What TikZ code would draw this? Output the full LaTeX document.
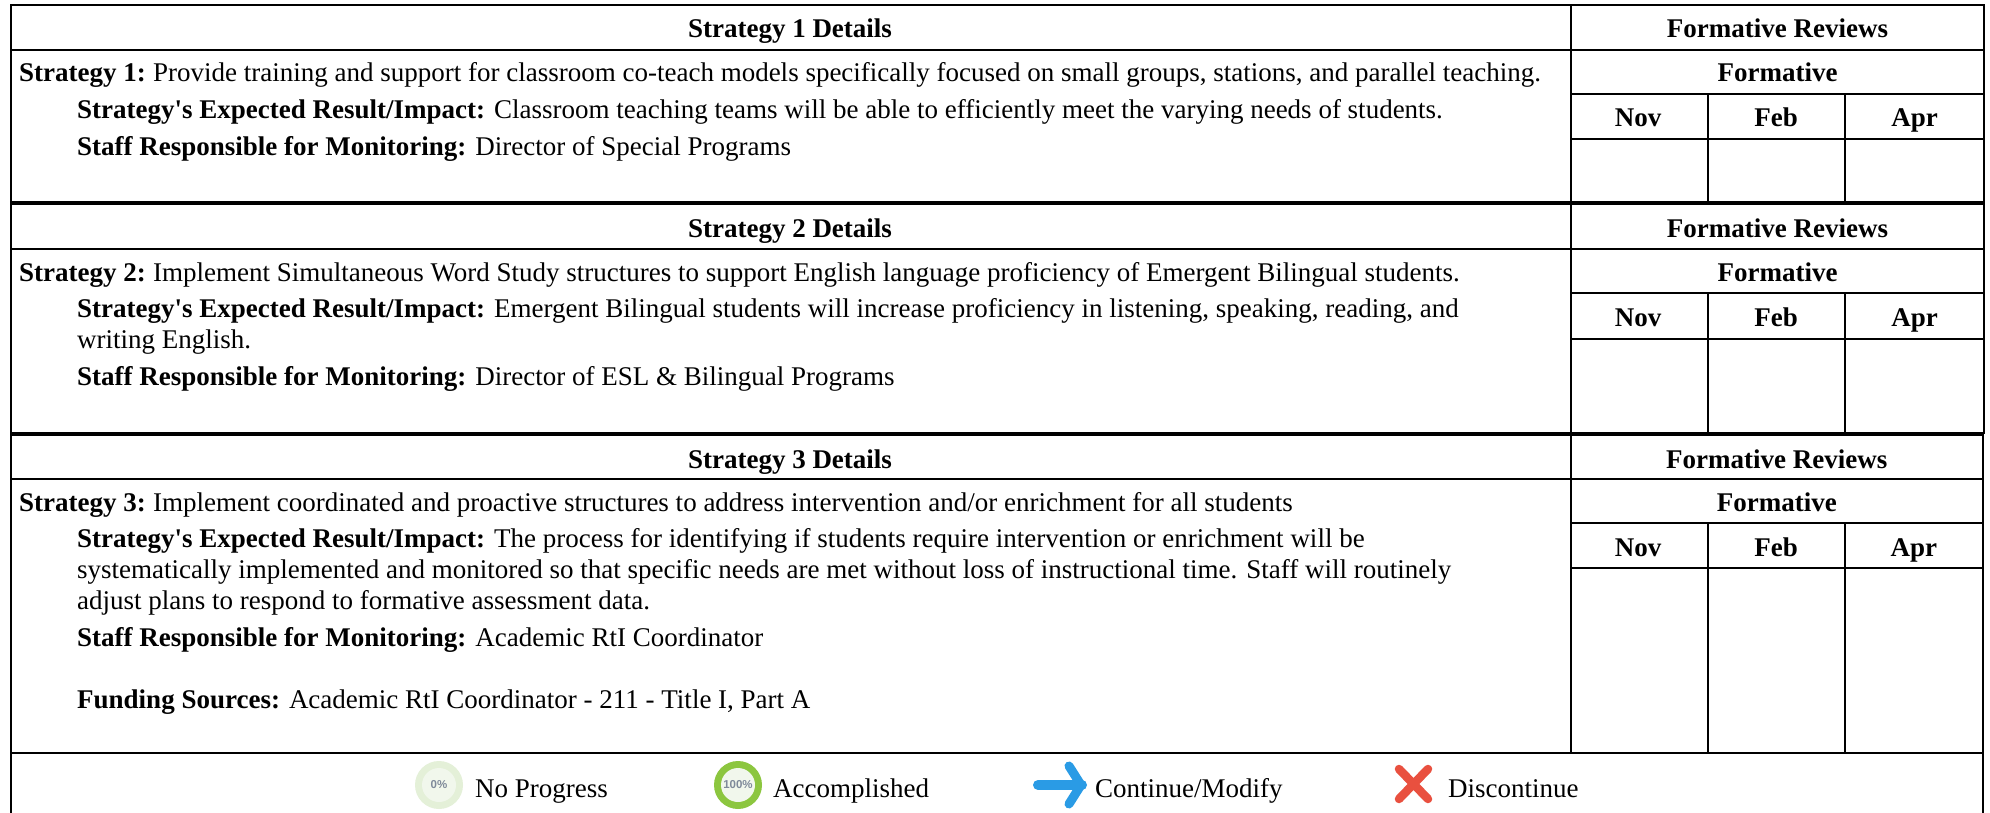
\documentclass[tikz,border=0pt]{standalone}
\usepackage{fontspec}
\setmainfont{Liberation Serif}[Ligatures=TeXOff]
\newfontfamily\legendsans{Liberation Sans}
\definecolor{ringpale}{HTML}{E4F0D8}
\definecolor{corepale}{HTML}{F1F7EC}
\definecolor{ringgreen}{HTML}{8CC63F}
\definecolor{arrowblue}{HTML}{2A9BE5}
\definecolor{crossred}{HTML}{E9503F}
\definecolor{pctgrey}{HTML}{7F8A9A}
\newcommand{\tablefont}{\fontsize{27}{30}\selectfont}
\tikzset{
  x=1pt,y=-1pt,
  rule/.style={draw=black,line width=2pt},
  txt/.style={anchor=base west,inner sep=0pt,font=\tablefont},
  ctr/.style={anchor=base,inner sep=0pt,font=\tablefont\bfseries},
  pct/.style={inner sep=0pt,text=pctgrey,font=\legendsans\fontsize{11.5}{12}\selectfont\bfseries},
}
\newcommand{\reviewrow}[9]{%
  \draw[rule] (11,#2) rectangle (#7,#6);
  \draw[rule] (1571,#2) -- (1571,#6);
  \draw[rule] (11,#3) -- (#7,#3);
  \draw[rule] (1571,#4) -- (#7,#4);
  \draw[rule] (1571,#5) -- (#7,#5);
  \draw[rule] (1708,#4) -- (1708,#6);
  \draw[rule] (1845,#4) -- (1845,#6);
  \node[ctr] (head#1) at (790,#8) {Strategy #1 Details};
  \reviewlabels{#1}{#7}#9%
}
\newcommand{\reviewlabels}[5]{%
  \pgfmathsetmacro{\colmid}{(1571+#2)/2}%
  \pgfmathsetmacro{\aprmid}{(1845+#2)/2}%
  \node[ctr] (rev#1) at (\colmid,#3) {Formative Reviews};
  \node[ctr] (form#1) at (\colmid,#4) {Formative};
  \node[ctr] (nov#1) at (1638,#5) {Nov};
  \node[ctr] (feb#1) at (1776,#5) {Feb};
  \node[ctr] (apr#1) at (\aprmid,#5) {Apr};
}
\begin{document}
\begin{tikzpicture}
\useasboundingbox (0,0) rectangle (1990,813);
\fill[white] (0,0) rectangle (1990,813);
\reviewrow{1}{5.5}{50}{94}{139}{202.5}{1984}{38}{{38}{82}{127}}
\reviewrow{2}{204.5}{249}{293}{339}{432.5}{1984}{238}{{238}{281}{326}}
\reviewrow{3}{434.5}{479}{523}{568}{753}{1982.5}{468}{{468}{511}{556}}
\draw[rule] (11,753) -- (11,813);
\draw[rule] (1982.5,753) -- (1982.5,813);

\node[txt] (s1) at (19,82) {\textbf{Strategy 1:}\kern-1.8pt{} Provide training and support for classroom co-teach models specifically focused on small groups, stations, and parallel teaching.};
\node[txt] (s1a) at (77,119) {\textbf{Strategy's Expected Result/Impact:} Classroom teaching teams will be able to efficiently meet the varying needs of students.};
\node[txt] (s1b) at (77,156) {\textbf{Staff Responsible for Monitoring:} Director of Special Programs};

\node[txt] (s2) at (19,281) {\textbf{Strategy 2:}\kern-1.8pt{} Implement Simultaneous Word Study structures to support English language proficiency of Emergent Bilingual students.};
\node[txt] (s2a) at (77,317) {\textbf{Strategy's Expected Result/Impact:} Emergent Bilingual students will increase proficiency in listening, speaking, reading, and};
\node[txt] (s2a2) at (77,348) {writing English.};
\node[txt] (s2b) at (77,385) {\textbf{Staff Responsible for Monitoring:} Director of ESL \& Bilingual Programs};

\node[txt] (s3) at (19,511) {\textbf{Strategy 3:}\kern-1.8pt{} Implement coordinated and proactive structures to address intervention and/or enrichment for all students};
\node[txt] (s3a) at (77,547) {\textbf{Strategy's Expected Result/Impact:} The process for identifying if students require intervention or enrichment will be};
\node[txt] (s3a2) at (77,578) {systematically implemented and monitored so that specific needs are met without loss of instructional time. Staff will routinely};
\node[txt] (s3a3) at (77,609) {adjust plans to respond to formative assessment data.};
\node[txt] (s3b) at (77,646) {\textbf{Staff Responsible for Monitoring:} Academic RtI Coordinator};
\node[txt] (s3c) at (77,708) {\textbf{Funding Sources:} Academic RtI Coordinator - 211 - Title I, Part A};

% legend
\fill[ringpale] (439,785) circle (24);
\fill[corepale] (439,785) circle (17);
\node[pct] (pct0) at (439,785) {0\%};
\node[txt] (lg1) at (475,797) {No Progress};
\fill[ringgreen] (738,785) circle (24);
\fill[corepale] (738,785) circle (17);
\node[pct] (pct100) at (738,785) {100\%};
\node[txt] (lg2) at (773,797) {Accomplished};
\draw[arrowblue,line width=10pt,line cap=round,line join=round] (1038,785) -- (1082,785);
\draw[arrowblue,line width=9pt,line cap=round,line join=round] (1069,766) -- (1081,785) -- (1069,804);
\node[txt] (lg3) at (1095,797) {Continue/Modify};
\draw[crossred,line width=8.5pt,line cap=round] (1399,769) -- (1428,799);
\draw[crossred,line width=8.5pt,line cap=round] (1428,769) -- (1399,799);
\node[txt] (lg4) at (1448,797) {Discontinue};
\end{tikzpicture}
\end{document}
